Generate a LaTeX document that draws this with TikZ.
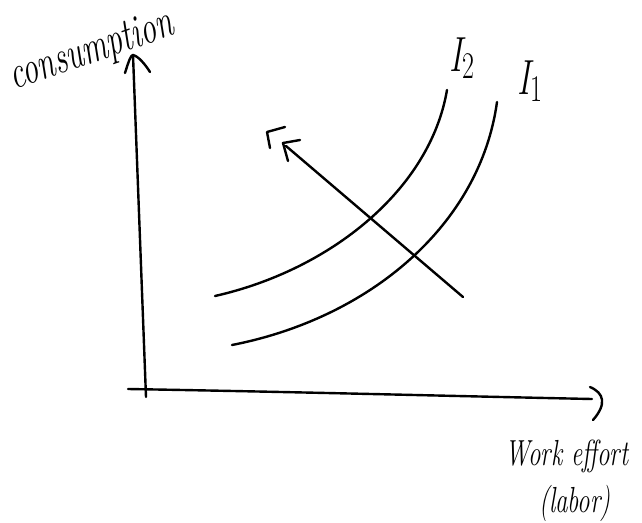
\documentclass[tikz,border=0pt]{standalone}
\usepackage{fontspec}
\usepackage{graphicx}
\newcommand{\tallish}[1]{\scalebox{1}[1.45]{#1}}
\newcommand{\Isub}[1]{\tallish{\itshape I\kern1pt\raisebox{-0.35ex}{\fontsize{26}{28}\selectfont\upshape #1}}}
\begin{document}
\begin{tikzpicture}[x=1pt,y=-1pt,
  stroke/.style={line width=2.4pt,line cap=round,line join=round},
  hand/.style={inner sep=0pt},
  big/.style={font=\itshape\fontsize{32}{34}\selectfont},
  mid/.style={font=\itshape\fontsize{25}{27}\selectfont},
  idx/.style={font=\fontsize{34}{36}\selectfont}]
\useasboundingbox (0,0) rectangle (642,522);
% axes
\coordinate (o) at (146,397);
\coordinate (ytop) at (133,55);
\draw[stroke] (o) -- (ytop);
\draw[stroke] (125,73) .. controls (129,60) and (131,55) .. (ytop) .. controls (138,56) and (145,64) .. (150,72);
\coordinate (xl) at (128,389);
\coordinate (xr) at (592,399);
\draw[stroke] (xl) .. controls (300,392) and (450,396) .. (xr);
\draw[stroke] (590,387) .. controls (604,393) and (607,404) .. (593,420);
% indifference curves
\coordinate (i2a) at (215,296);
\coordinate (i2b) at (447,90);
\draw[stroke] (i2a) .. controls (330,270) and (430,190) .. (i2b);
\coordinate (i1a) at (232,345);
\coordinate (i1b) at (497,102);
\draw[stroke] (i1a) .. controls (370,318) and (480,225) .. (i1b);
% arrow
\coordinate (a0) at (463,297);
\coordinate (a1) at (286,146);
\draw[stroke] (a0) -- (a1);
\draw[stroke] (270,148) -- (267,132) -- (285,127);
\draw[stroke] (288,161) -- (283,143) -- (300,140);
% labels
\node[hand,big,rotate=19] (cons) at (92,52) {\tallish{consumption}};
\node[hand,idx] (i2) at (462,58) {\Isub{2}};
\node[hand,idx] (i1) at (530,81) {\Isub{1}};
\node[hand,mid] (work) at (567,456) {\tallish{Work effort}};
\node[hand,mid] (labor) at (575,503) {\tallish{(labor)}};
\end{tikzpicture}
\end{document}
